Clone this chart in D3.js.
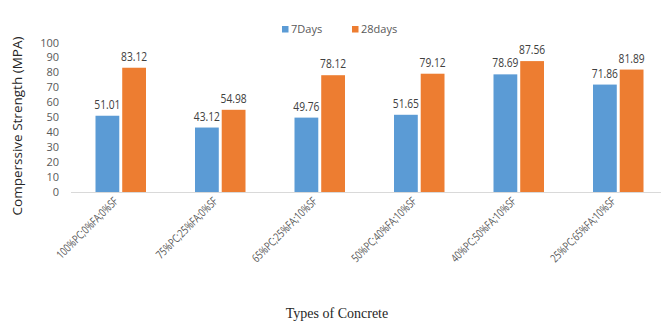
<!DOCTYPE html>
<html>
<head>
<meta charset="utf-8">
<script src="https://cdn.jsdelivr.net/npm/d3@7"></script>
<style>
  body { margin: 0; background: #fff; }
  svg { display: block; }
</style>
</head>
<body>
<div id="chart"></div>
<script>
// categories and values
const concreteTypes = [
    "100%PC;0%FA;0%SF",
    "75%PC;25%FA;0%SF",
    "65%PC;25%FA;10%SF",
    "50%PC;40%FA;10%SF",
    "40%PC;50%FA;10%SF",
    "25%PC;65%FA;10%SF"
];
const days7 = [51.01, 43.12, 49.76, 51.65, 78.69, 71.86];
const days28 = [83.12, 54.98, 78.12, 79.12, 87.56, 81.89];
const seriesNames = ["7Days", "28days"];
const yTicks = [0, 10, 20, 30, 40, 50, 60, 70, 80, 90, 100];

const colors = ["#5b9bd5", "#ed7d31"];
const width = 661;
const height = 322;
const labelFont = "'Open Sans', sans-serif";
const squeeze = 0.82; // the original font (Calibri) is narrower than Open Sans

const svg = d3.select("#chart")
    .append("svg")
    .attr("width", width)
    .attr("height", height);

const xScale = d3.scaleBand()
    .domain(concreteTypes)
    .range([71, 668]);

// two bars inside each band
const xInner = d3.scaleBand()
    .domain(seriesNames)
    .range([24.5, 75])
    .paddingInner(0.11);

const yScale = d3.scaleLinear()
    .domain([0, 100])
    .range([192, 42.5]);

// y axis tick labels (no axis line in the original)
const yAxis = d3.axisLeft(yScale).tickValues(yTicks).tickSize(0).tickPadding(0);
const yG = svg.append("g")
    .attr("transform", "translate(59,0)")
    .call(yAxis);
yG.select(".domain").remove();
yG.selectAll("text")
    .style("font-family", labelFont)
    .style("font-size", "11px")
    .style("fill", "#595959");

// baseline
svg.append("line")
    .attr("x1", 71)
    .attr("x2", width)
    .attr("y1", yScale(0) + 0.5)
    .attr("y2", yScale(0) + 0.5)
    .attr("stroke", "#d9d9d9")
    .attr("stroke-width", 1);

const rows = concreteTypes.map((c, i) => ({ type: c, values: [days7[i], days28[i]] }));

const groups = svg.selectAll(".group")
    .data(rows)
    .enter()
    .append("g")
    .attr("class", "group")
    .attr("transform", d => `translate(${xScale(d.type)},0)`);

groups.selectAll("rect")
    .data(d => d.values.map((v, j) => ({ name: seriesNames[j], value: v, j: j })))
    .enter()
    .append("rect")
    .attr("x", d => xInner(d.name))
    .attr("y", d => yScale(d.value))
    .attr("width", xInner.bandwidth())
    .attr("height", d => yScale(0) - yScale(d.value))
    .attr("fill", d => colors[d.j]);

groups.selectAll(".value")
    .data(d => d.values.map((v, j) => ({ name: seriesNames[j], value: v, j: j })))
    .enter()
    .append("text")
    .attr("class", "value")
    .attr("transform", d => `translate(${xInner(d.name) + xInner.bandwidth() / 2},${yScale(d.value) - 7}) scale(${squeeze},1)`)
    .attr("text-anchor", "middle")
    .style("font-family", labelFont)
    .style("font-size", "12.5px")
    .style("fill", "#404040")
    .text(d => d.value.toFixed(2));

// rotated category labels
svg.selectAll(".cat")
    .data(concreteTypes)
    .enter()
    .append("text")
    .attr("class", "cat")
    .attr("transform", d => `translate(${xScale(d) + xScale.bandwidth() / 2 - 2},202) rotate(-45) scale(0.76,1)`)
    .attr("text-anchor", "end")
    .style("font-family", labelFont)
    .style("font-size", "11.5px")
    .style("fill", "#595959")
    .text(d => d);

// legend
const legend = svg.selectAll(".legend")
    .data(seriesNames)
    .enter()
    .append("g")
    .attr("class", "legend")
    .attr("transform", (d, i) => `translate(${i === 0 ? 282 : 352},26)`);
legend.append("rect")
    .attr("width", 6.5)
    .attr("height", 6.5)
    .attr("fill", (d, i) => colors[i]);
legend.append("text")
    .attr("x", 9)
    .attr("y", 7)
    .style("font-family", labelFont)
    .style("font-size", "11px")
    .style("fill", "#595959")
    .text(d => d);

// axis titles
svg.append("text")
    .attr("transform", "translate(22,126) rotate(-90)")
    .attr("text-anchor", "middle")
    .style("font-family", labelFont)
    .style("font-size", "13.5px")
    .style("fill", "#262626")
    .text("Comperssive Strength (MPA)");

svg.append("text")
    .attr("x", 337)
    .attr("y", 318)
    .attr("text-anchor", "middle")
    .style("font-family", "'Liberation Serif', serif")
    .style("font-size", "14px")
    .style("fill", "#262626")
    .text("Types of Concrete");
</script>
</body>
</html>
